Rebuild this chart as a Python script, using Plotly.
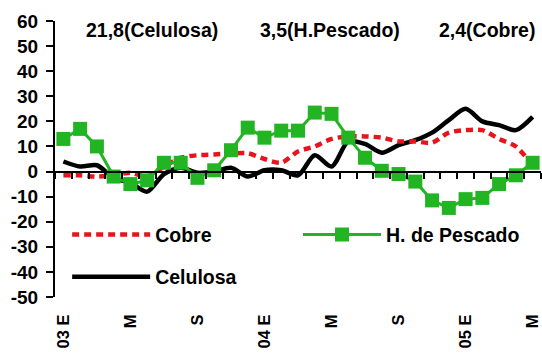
import plotly.graph_objects as go

# Monthly periods, Jan 2003 .. May 2005
months = ["03 E", "F", "M", "A", "M", "J", "J", "A", "S", "O", "N", "D",
          "04 E", "F", "M", "A", "M", "J", "J", "A", "S", "O", "N", "D",
          "05 E", "F", "M", "A", "M"]
tick_idx = [0, 4, 8, 12, 16, 20, 24, 28]
tick_text = ["03 E", "M", "S", "04 E", "M", "S", "05 E", "M"]
y_ticks = [-50, -40, -30, -20, -10, 0, 10, 20, 30, 40, 50, 60]

cobre = [-1.5, -1.5, -2.0, -1.5, -0.5, -2.0, 2.0, 5.5, 6.5, 6.8, 7.2, 7.3,
         5.0, 3.5, 8.0, 10.0, 13.0, 14.0, 14.0, 13.5, 12.0, 12.0, 11.5, 15.5,
         16.5, 16.5, 13.0, 10.0, 2.4]
pescado = [13.0, 17.0, 10.0, -2.0, -5.0, -3.5, 3.5, 3.5, -2.5, 0.5, 8.5, 17.5,
           13.5, 16.3, 16.3, 23.5, 23.0, 13.5, 5.5, 0.3, -1.0, -4.0, -11.5, -14.5,
           -11.0, -10.5, -5.0, -1.5, 3.5]
celulosa = [4.0, 2.0, 2.5, -2.5, -4.5, -8.0, -1.0, 1.5, -0.5, 0.0, 1.5, -2.0,
            0.5, 0.5, -1.5, 6.5, 2.0, 12.0, 11.0, 7.5, 10.5, 12.5, 15.5, 20.5,
            25.0, 20.0, 18.5, 16.5, 21.8]

x = list(range(len(months)))
FONT = "Liberation Sans, Arial, sans-serif"
GREEN = "#22b422"
RED = "#e8141c"


def b(s):
    return "<b>" + str(s) + "</b>"


fig = go.Figure()
fig.add_trace(go.Scatter(
    x=x, y=celulosa, name=b("Celulosa"), mode="lines",
    line=dict(color="black", width=4.5, shape="spline", smoothing=0.8),
    legend="legend3"))
fig.add_trace(go.Scatter(
    x=x, y=cobre, name=b("Cobre"), mode="lines",
    line=dict(color=RED, width=4.5, dash="7px,5px", shape="spline", smoothing=0.8),
    legend="legend"))
fig.add_trace(go.Scatter(
    x=x, y=pescado, name=b("H. de Pescado"), mode="lines+markers",
    line=dict(color=GREEN, width=3),
    marker=dict(symbol="square", size=14, color=GREEN),
    legend="legend2"))

xr = [-0.5, len(months) - 0.5]
yr = [-50, 60]
zero_pos = (0 - yr[0]) / (yr[1] - yr[0])

legend_common = dict(orientation="h", bgcolor="rgba(0,0,0,0)", borderwidth=0,
                     font=dict(family=FONT, size=19.5, color="black"),
                     itemwidth=78, xanchor="left", yanchor="middle")

ann_font = dict(family=FONT, size=19.5, color="black")

fig.update_layout(
    width=542, height=354,
    margin=dict(l=55, r=1, t=21, b=57),
    paper_bgcolor="white", plot_bgcolor="white",
    font=dict(family=FONT, color="black"),
    xaxis=dict(range=xr, tickmode="array", tickvals=tick_idx,
               ticktext=[b(t) for t in tick_text],
               tickangle=-90, ticks="outside", ticklen=10, tickcolor="rgba(0,0,0,0)",
               tickfont=dict(family=FONT, size=16.5),
               showgrid=False, zeroline=False, showline=False),
    xaxis2=dict(range=xr, overlaying="x", anchor="free", position=zero_pos,
                side="bottom", tickmode="linear", tick0=-0.5, dtick=1,
                ticks="outside", ticklen=6, tickwidth=1.5, tickcolor="black",
                showticklabels=False, showline=True, linewidth=2, linecolor="black",
                showgrid=False, zeroline=False),
    yaxis=dict(range=yr, tickmode="array", tickvals=y_ticks,
               ticktext=[b(v) for v in y_ticks],
               ticks="outside", ticklen=7, tickwidth=2, ticklabelstandoff=4,
               tickcolor="black", showline=True, linewidth=2, linecolor="black",
               showgrid=False, zeroline=False,
               tickfont=dict(family=FONT, size=19)),
    legend=dict(x=0.025, y=0.225, **legend_common),
    legend2=dict(x=0.50, y=0.225, **legend_common),
    legend3=dict(x=0.025, y=0.072, **legend_common),
    annotations=[
        dict(text=b("21,8(Celulosa)"), x=0.20, y=0.967, xref="paper", yref="paper",
             xanchor="center", yanchor="middle", showarrow=False, font=ann_font),
        dict(text=b("3,5(H.Pescado)"), x=0.565, y=0.967, xref="paper", yref="paper",
             xanchor="center", yanchor="middle", showarrow=False, font=ann_font),
        dict(text=b("2,4(Cobre)"), x=0.889, y=0.967, xref="paper", yref="paper",
             xanchor="center", yanchor="middle", showarrow=False, font=ann_font),
    ],
)
# invisible trace to activate the tick axis drawn along y = 0
fig.add_trace(go.Scatter(x=xr, y=[None, None], xaxis="x2", showlegend=False,
                         hoverinfo="skip"))

fig.write_html("out.html")
